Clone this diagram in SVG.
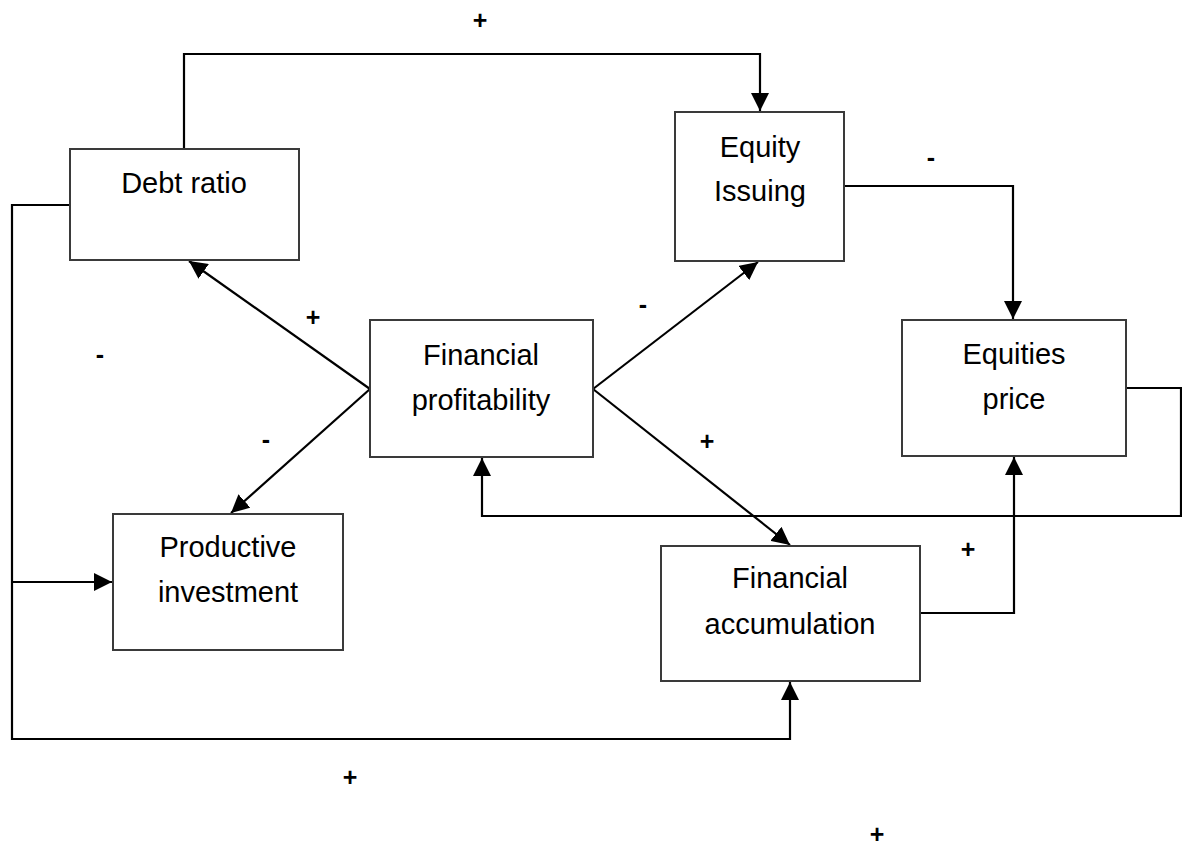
<svg xmlns="http://www.w3.org/2000/svg" width="1182" height="848" viewBox="0 0 1182 848">
<style>
.box{fill:#fff;stroke:#3a3a3a;stroke-width:2}
.lbl{font-family:"Liberation Sans",Arial,sans-serif;font-size:29px;fill:#000;text-anchor:middle}
.sign{font-family:"Liberation Sans",Arial,sans-serif;font-size:25px;font-weight:bold;fill:#000;text-anchor:middle}
.ln{fill:none;stroke:#000;stroke-width:2.2}
</style>
<defs>
<marker id="ah" markerUnits="userSpaceOnUse" markerWidth="18" markerHeight="18" refX="18" refY="9" orient="auto">
<path d="M0,0 L18,9 L0,18 z" fill="#000"/>
</marker>
</defs>
<rect width="1182" height="848" fill="#fff"/>
<g id="connectors">
<polyline class="ln" points="184,149 184,54 760,54 760,111" marker-end="url(#ah)"/>
<polyline class="ln" points="844,186 1013,186 1013,319" marker-end="url(#ah)"/>
<line class="ln" x1="370" y1="389" x2="189" y2="261" marker-end="url(#ah)"/>
<line class="ln" x1="370" y1="389" x2="231" y2="513" marker-end="url(#ah)"/>
<line class="ln" x1="593" y1="389" x2="758" y2="262" marker-end="url(#ah)"/>
<line class="ln" x1="593" y1="389" x2="790" y2="545" marker-end="url(#ah)"/>
<polyline class="ln" points="70,205 12,205 12,739 790,739 790,682" marker-end="url(#ah)"/>
<polyline class="ln" points="12,582 112,582" marker-end="url(#ah)"/>
<polyline class="ln" points="920,613 1014,613 1014,457" marker-end="url(#ah)"/>
<polyline class="ln" points="1126,388 1181,388 1181,516 482,516 482,458" marker-end="url(#ah)"/>
</g>
<g id="debt-ratio">
<rect class="box" x="70" y="149" width="229" height="111"/>
<text class="lbl" x="184" y="193">Debt ratio</text>
</g>
<g id="equity-issuing">
<rect class="box" x="675" y="112" width="169" height="149"/>
<text class="lbl" x="760" y="157">Equity</text>
<text class="lbl" x="760" y="201">Issuing</text>
</g>
<g id="financial-profitability">
<rect class="box" x="370" y="320" width="223" height="137"/>
<text class="lbl" x="481" y="365">Financial</text>
<text class="lbl" x="481" y="410">profitability</text>
</g>
<g id="equities-price">
<rect class="box" x="902" y="320" width="224" height="136"/>
<text class="lbl" x="1014" y="364">Equities</text>
<text class="lbl" x="1014" y="409">price</text>
</g>
<g id="productive-investment">
<rect class="box" x="113" y="514" width="230" height="136"/>
<text class="lbl" x="228" y="557">Productive</text>
<text class="lbl" x="228" y="602">investment</text>
</g>
<g id="financial-accumulation">
<rect class="box" x="661" y="546" width="259" height="135"/>
<text class="lbl" x="790" y="588">Financial</text>
<text class="lbl" x="790" y="634">accumulation</text>
</g>
<g id="signs">
<text class="sign" x="480" y="29">+</text>
<text class="sign" x="931" y="166">-</text>
<text class="sign" x="313" y="326">+</text>
<text class="sign" x="100" y="363">-</text>
<text class="sign" x="643" y="313">-</text>
<text class="sign" x="266" y="448">-</text>
<text class="sign" x="707" y="450">+</text>
<text class="sign" x="968" y="558">+</text>
<text class="sign" x="350" y="786">+</text>
<text class="sign" x="877" y="843">+</text>
</g>
</svg>
